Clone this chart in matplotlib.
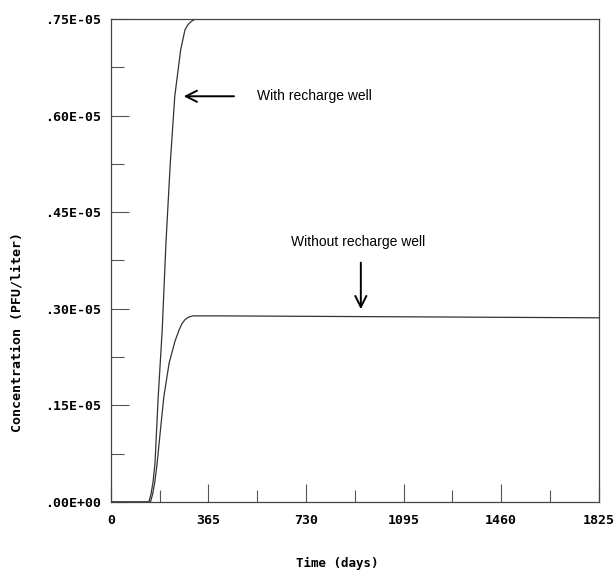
import matplotlib.pyplot as plt
import numpy as np
from matplotlib.ticker import FixedLocator

# values (days, concentration in units of 1e-5 PFU/liter)
day_with = [0, 142, 150, 158, 165, 177, 192, 206, 222, 239, 261, 277, 288, 300, 312, 325, 1825]
conc_with = [0, 0, 0.012, 0.032, 0.06, 0.163, 0.267, 0.402, 0.525, 0.630, 0.702, 0.733,
             0.741, 0.746, 0.749, 0.75, 0.75]

day_without = [0, 148, 156, 164, 173, 185, 198, 218, 240, 255, 266, 277, 290, 307, 400, 1825]
conc_without = [0, 0, 0.012, 0.03, 0.06, 0.11, 0.163, 0.216, 0.25, 0.267, 0.277, 0.283,
                0.287, 0.289, 0.289, 0.286]

xticks = [0, 365, 730, 1095, 1460, 1825]
yticks = [0, 0.15, 0.30, 0.45, 0.60, 0.75]
ytick_labels = ['.00E+00', '.15E-05', '.30E-05', '.45E-05', '.60E-05', '.75E-05']

mono = 'DejaVu Sans Mono'

fig = plt.figure(figsize=(6.16, 5.72), dpi=100)
ax = fig.add_axes([0.180, 0.1224, 0.792, 0.8444])

ax.plot(np.array(day_with), np.array(conc_with) * 1e-5, color='#333333', lw=0.9)
ax.plot(np.array(day_without), np.array(conc_without) * 1e-5, color='#333333', lw=0.9)

ax.set_xlim(0, 1825)
ax.set_ylim(0, 0.75e-5)

ax.set_xticks(xticks)
ax.set_xticklabels([str(t) for t in xticks], family=mono, fontweight='bold', fontsize=9.5)
ax.xaxis.set_minor_locator(FixedLocator([182.5, 547.5, 912.5, 1277.5, 1642.5]))
ax.set_yticks([v * 1e-5 for v in yticks])
ax.set_yticklabels(ytick_labels, family=mono, fontweight='bold', fontsize=9.5)
ax.yaxis.set_minor_locator(FixedLocator([v * 1e-5 for v in [0.075, 0.225, 0.375, 0.525, 0.675]]))

ax.tick_params(which='major', direction='in', length=13, width=0.8, color='#555555')
ax.tick_params(which='minor', direction='in', length=9, width=0.8, color='#555555')
ax.tick_params(axis='x', which='major', pad=9)
ax.tick_params(axis='y', which='major', pad=7)

for s in ax.spines.values():
    s.set_color('#444444')
    s.set_linewidth(0.9)

ax.set_xlabel('Time (days)', family=mono, fontweight='bold', fontsize=9)
ax.xaxis.set_label_coords(0.464, -0.114)
ax.set_ylabel('Concentration (PFU/liter)', family=mono, fontweight='bold', fontsize=9.5)
ax.yaxis.set_label_coords(-0.180, 0.352)

ax.annotate('', xy=(262, 0.630e-5), xytext=(471, 0.630e-5),
            arrowprops=dict(arrowstyle='->', color='black', lw=1.4, mutation_scale=20))
ax.text(546, 0.630e-5, 'With recharge well', family='Liberation Sans',
        fontsize=10, va='center', ha='left')

ax.annotate('', xy=(935, 0.295e-5), xytext=(935, 0.376e-5),
            arrowprops=dict(arrowstyle='->', color='black', lw=1.4, mutation_scale=20))
ax.text(925, 0.404e-5, 'Without recharge well', family='Liberation Sans',
        fontsize=10, va='center', ha='center')

fig.savefig('out.png', dpi=100)
